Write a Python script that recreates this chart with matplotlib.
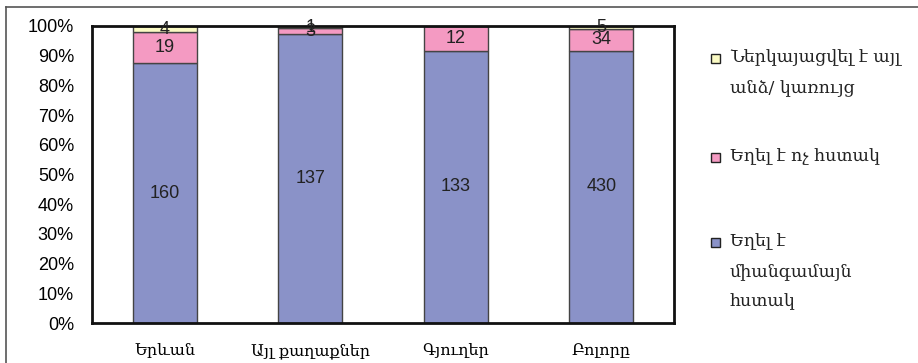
import matplotlib
matplotlib.use('Agg')
import matplotlib.pyplot as plt
from matplotlib.lines import Line2D
from matplotlib.patches import Rectangle
import numpy as np

categories = ['Երևան', 'Այլ քաղաքներ', 'Գյուղեր', 'Բոլորը']
clear = [160, 137, 133, 430]
unclear = [19, 3, 12, 34]
other = [4, 1, 0, 5]
series_names = ['Եղել է\nմիանգամայն\nհստակ', 'Եղել է ոչ հստակ',
                'Ներկայացվել է այլ\nանձ/ կառույց']
colors = ['#8a92c8', '#f49ac2', '#fbfbc4']

W, H = 918, 363
fig = plt.figure(figsize=(W / 100, H / 100), dpi=100)
ax = fig.add_axes([92 / W, 1 - 323 / H, (674 - 92) / W, (323 - 26) / H])

data = np.array([clear, unclear, other], dtype=float)
totals = data.sum(axis=0)
pct = data / totals * 100
x = np.arange(len(categories))
bottom = np.zeros(len(categories))
for i in range(3):
    ax.bar(x, pct[i], 0.44, bottom=bottom, color=colors[i],
           edgecolor='#444444', linewidth=1, zorder=2)
    for j in range(len(categories)):
        if data[i, j] > 0:
            ax.text(x[j], bottom[j] + pct[i, j] / 2, '%d' % data[i, j],
                    ha='center', va='center', fontsize=13,
                    family='Liberation Sans', color='#222222', zorder=3)
    bottom += pct[i]

ax.set_xlim(-0.5, 3.5)
ax.set_ylim(0, 100)
ax.set_yticks(np.arange(0, 101, 10))
ax.set_yticklabels(['%d%%' % v for v in range(0, 101, 10)],
                   family='Liberation Sans', fontsize=13)
ax.set_xticks(x)
ax.set_xticklabels(categories, family=['DejaVu Serif', 'DejaVu Sans'],
                   fontsize=11.5)
ax.tick_params(length=0)
ax.tick_params(axis='y', pad=13)
ax.tick_params(axis='x', pad=14)
for s in ax.spines.values():
    s.set_linewidth(2)
    s.set_color('#111111')

# legend drawn by hand
leg_y = [58, 157, 242]
for i, yy in zip([2, 1, 0], leg_y):
    fig.patches.append(Rectangle((711 / W, 1 - (yy + 5) / H), 9 / W, 9 / H,
                                 transform=fig.transFigure,
                                 facecolor=colors[i], edgecolor='#222222',
                                 linewidth=1))
    fig.text(730 / W, 1 - (yy - 9) / H, series_names[i], va='top', ha='left',
             fontsize=12.5, family=['DejaVu Serif', 'DejaVu Sans'],
             linespacing=2.0, color='#222222')

# outer frame (top and left)
fig.lines.append(Line2D([6 / W, 1], [1 - 7 / H, 1 - 7 / H],
                        transform=fig.transFigure, color='#555555', lw=1.2))
fig.lines.append(Line2D([6 / W, 6 / W], [0, 1 - 7 / H],
                        transform=fig.transFigure, color='#555555', lw=1.2))

fig.savefig('out.png', dpi=100)
